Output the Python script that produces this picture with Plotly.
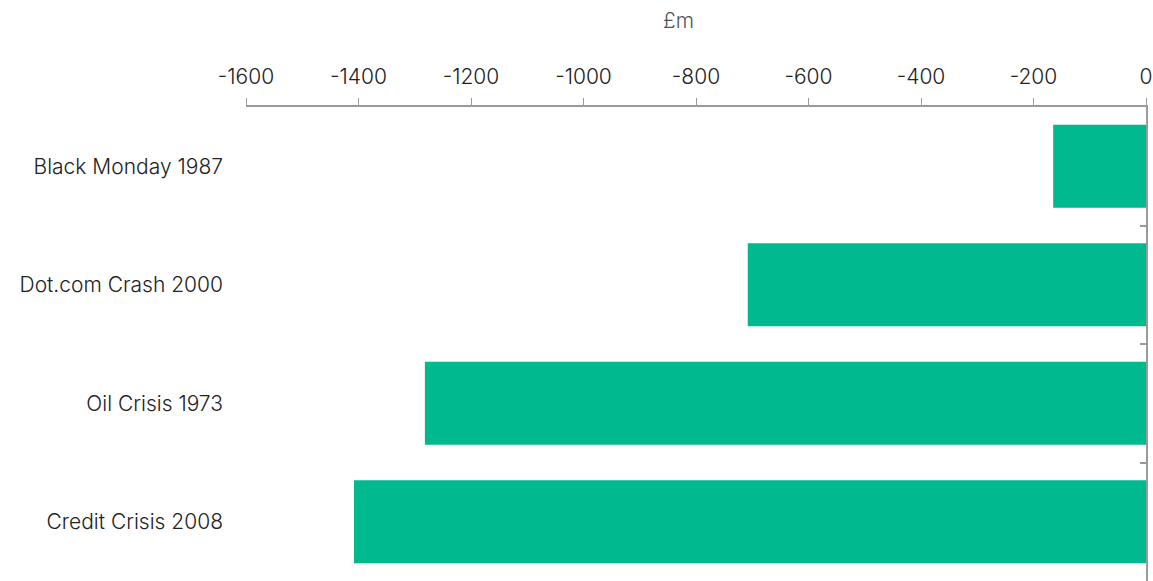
import plotly.graph_objects as go

categories = ["Black Monday 1987", "Dot.com Crash 2000", "Oil Crisis 1973", "Credit Crisis 2008"]
values = [-165, -708, -1282, -1408]
x_ticks = [-1600, -1400, -1200, -1000, -800, -600, -400, -200, 0]
unit_label = "£m"

bar_color = "#00B98E"
axis_color = "#9a9a9a"
font_family = "Inter, Lato, sans-serif"

fig = go.Figure()
fig.add_trace(go.Bar(x=values, y=categories, orientation="h",
                     marker=dict(color=bar_color, line=dict(width=0)),
                     hoverinfo="x+y", showlegend=False))
fig.add_trace(go.Bar(x=values, y=categories, orientation="h", yaxis="y2",
                     marker=dict(color="rgba(0,0,0,0)", line=dict(width=0)),
                     hoverinfo="skip", showlegend=False))

fig.update_layout(
    width=1153, height=581,
    margin=dict(l=246, r=7, t=107, b=0),
    paper_bgcolor="white", plot_bgcolor="white",
    font=dict(family=font_family, size=21, color="#222222", weight=300),
    bargap=0.3,
    barmode="overlay",
    xaxis=dict(
        side="top", range=[-1600, 0], tickvals=x_ticks,
        ticktext=[str(v) for v in x_ticks],
        showgrid=False, zeroline=False, automargin=False,
        showline=True, linecolor=axis_color, linewidth=1.5,
        ticks="outside", ticklen=7, tickwidth=1, tickcolor=axis_color,
        ticklabelstandoff=6,
        tickfont=dict(size=21, color="#222222", weight=300),
        fixedrange=True,
    ),
    yaxis=dict(
        categoryorder="array", categoryarray=categories, autorange="reversed",
        showgrid=False, zeroline=False, showline=False, ticks="",
        automargin=False,
        ticklabelstandoff=22,
        tickfont=dict(size=21, color="#222222", weight=300),
    ),
    yaxis2=dict(
        overlaying="y", side="right", anchor="x",
        categoryorder="array", categoryarray=categories, autorange="reversed",
        showgrid=False, zeroline=False, showticklabels=False, automargin=False,
        showline=True, linecolor=axis_color, linewidth=2,
        ticks="inside", tickson="boundaries", ticklen=6, tickwidth=1.5, tickcolor=axis_color,
    ),
    annotations=[dict(text=unit_label, xref="paper", yref="paper",
                      x=0.481, y=1, yshift=87, xanchor="center", yanchor="middle",
                      showarrow=False, font=dict(size=21, color="#555555", weight=300))],
)

fig.write_html("out.html",
               config={"displayModeBar": False},
               post_script="document.body.style.margin='0px';document.body.style.overflow='hidden';")
